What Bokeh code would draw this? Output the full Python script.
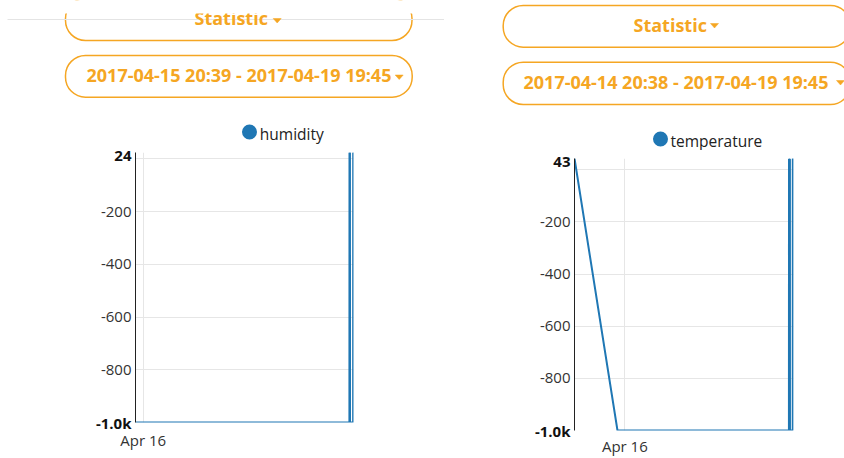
import pandas as pd
from bokeh.plotting import figure
from bokeh.models import Range1d, FixedTicker, DatetimeTickFormatter, LinearAxis, ColumnDataSource
from bokeh.layouts import row, column
from bokeh.core.properties import value
from bokeh.embed import file_html
from bokeh.resources import INLINE

# ---------------- data ----------------
humidity_time = ["2017-04-15 20:39", "2017-04-19 17:58", "2017-04-19 18:00", "2017-04-19 18:12",
                 "2017-04-19 18:14", "2017-04-19 19:35", "2017-04-19 19:37", "2017-04-19 19:45"]
humidity_value = [-1000, -1000, 24, 22, -1000, -1000, 24, 23]

temperature_time = ["2017-04-14 20:38", "2017-04-15 20:01", "2017-04-19 17:16", "2017-04-19 17:18",
                    "2017-04-19 17:48", "2017-04-19 17:50", "2017-04-19 19:20", "2017-04-19 19:22",
                    "2017-04-19 19:45"]
temperature_value = [43, -1000, -1000, 41, 40, -1000, -1000, 43, 42]

humidity_span = ["2017-04-15 20:39", "2017-04-19 19:45"]
temperature_span = ["2017-04-14 20:38", "2017-04-19 19:45"]
humidity_bounds = [-1000, 24]
temperature_bounds = [-1000, 43]

x_tick_dates = ["2017-04-16"]
y_ticks = [0, -200, -400, -600, -800, -1000]
y_tick_labels = ["", "-200", "-400", "-600", "-800", ""]
bottom_bound_label = "-1.0k"

series_names = ["humidity", "temperature"]
menu_label = "Statistic"

ORANGE = "#f5a623"
BLUE = "#1f77b4"
FONT = "Open Sans"


def header(width, height, stat_box, stat_text, date_box, date_text, caret1, caret2,
           legend_dot, legend_text, name, span, cover=None, rule=None):
    h = figure(width=width, height=height, x_range=Range1d(0, width), y_range=Range1d(height, 0),
               toolbar_location=None, tools="", output_backend="svg", min_border=0,
               x_axis_type=None, y_axis_type=None, outline_line_color=None, frame_align=False)
    h.grid.visible = False
    for (l, r, t, b) in (stat_box, date_box):
        h.quad(left=[l], right=[r], top=[t], bottom=[b], fill_color="white",
               line_color=ORANGE, line_width=1.5, border_radius=20)
    if rule is not None:
        h.segment(x0=[rule[0]], x1=[rule[1]], y0=[rule[2]], y1=[rule[2]],
                  line_color="#e4e4e4", line_width=1)
    label = f"{span[0]} - {span[1]}"
    h.text(x=[stat_text[0], date_text[0]], y=[stat_text[1], date_text[1]], text=[menu_label, label],
           text_font=value(FONT), text_font_style="bold", text_font_size=value("18px"),
           text_color=ORANGE, text_align="left", text_baseline="alphabetic")
    for (cx, cy) in (caret1, caret2):
        h.patch(x=[cx - 4, cx + 4, cx], y=[cy - 2, cy - 2, cy + 2.5],
                fill_color=ORANGE, line_color=ORANGE, line_width=0.5)
    if cover is not None:
        h.quad(left=[0], right=[width], top=[-20], bottom=[cover], fill_color="white", line_color=None)
    h.scatter(x=[legend_dot[0]], y=[legend_dot[1]], size=15, marker="circle",
              fill_color=BLUE, line_color=None)
    h.text(x=[legend_text[0]], y=[legend_text[1]], text=[name], text_font=value(FONT),
           text_font_size=value("15.5px"), text_color="#222", text_align="left",
           text_baseline="alphabetic")
    return h


def style_axis(ax, standoff, bold=False):
    ax.major_tick_line_color = None
    ax.minor_tick_line_color = None
    ax.major_tick_out = 0
    ax.major_tick_in = 0
    ax.minor_tick_out = 0
    ax.minor_tick_in = 0
    ax.major_label_standoff = standoff
    ax.major_label_text_font = FONT
    ax.major_label_text_font_size = "15px"
    ax.major_label_text_color = "#111" if bold else "#333"
    if bold:
        ax.major_label_text_font_style = "bold"


def chart(times, vals, span, bounds, width, height, mbl, mbr, mbt, mbb, standoff):
    x0, x1 = [pd.Timestamp(s).to_pydatetime() for s in span]
    p = figure(width=width, height=height, x_axis_type="datetime",
               x_range=Range1d(x0, x1), y_range=Range1d(bounds[0], bounds[1]),
               toolbar_location=None, tools="", output_backend="svg", frame_align=False,
               min_border_left=mbl, min_border_right=mbr, min_border_top=mbt, min_border_bottom=mbb)
    p.outline_line_color = None
    src = ColumnDataSource(dict(t=pd.to_datetime(times), v=vals))
    p.line("t", "v", source=src, line_color=BLUE, line_width=2)

    ticks_ms = [pd.Timestamp(d).value / 1e6 for d in x_tick_dates]
    p.xaxis.ticker = FixedTicker(ticks=ticks_ms)
    fmt = "%b %d"
    p.xaxis.formatter = DatetimeTickFormatter(microseconds=fmt, milliseconds=fmt, seconds=fmt,
                                              minsec=fmt, minutes=fmt, hourmin=fmt, hours=fmt,
                                              days=fmt, months=fmt, years=fmt)
    p.xaxis.axis_line_color = None
    style_axis(p.xaxis[0], standoff)

    yax = p.yaxis[0]
    yax.ticker = FixedTicker(ticks=y_ticks)
    yax.major_label_overrides = {t: lab for t, lab in zip(y_ticks, y_tick_labels)}
    yax.axis_line_color = "#222"
    style_axis(yax, 4)

    # range-bound labels in bold, drawn by a second left axis pulled back onto the first
    bold_ticks = [bounds[1], bounds[0]]
    bold_labels = [str(bounds[1]), bottom_bound_label]
    bax = LinearAxis(ticker=FixedTicker(ticks=bold_ticks),
                     major_label_overrides={t: lab for t, lab in zip(bold_ticks, bold_labels)})
    bax.axis_line_color = None
    style_axis(bax, -34, bold=True)
    p.add_layout(bax, "left")

    p.grid.grid_line_color = "#e6e6e6"
    p.grid.grid_line_width = 1
    return p


# left column: page x 0..444
hL = header(444, 144, stat_box=(65, 411.5, -2, 40), stat_text=(194, 17.7),
            date_box=(65, 411.7, 55, 96.7), date_text=(86, 74.7),
            caret1=(276.7, 20), caret2=(398.7, 76.5),
            legend_dot=(249, 131.5), legend_text=(259.3, 133.3), name=series_names[0],
            span=humidity_span, cover=13, rule=(7, 444, 19))
cL = chart(humidity_time, humidity_value, humidity_span, humidity_bounds,
           444, 314, mbl=135, mbr=91, mbt=8, mbb=36, standoff=7)

# right column: page x 444..844
hR = header(400, 150, stat_box=(58.7, 406, 5, 46.7), stat_text=(189, 24.7),
            date_box=(58.7, 406, 61.7, 104), date_text=(79, 81.3),
            caret1=(270, 25), caret2=(396, 82),
            legend_dot=(216, 138.5), legend_text=(226, 140), name=series_names[1],
            span=temperature_span)
cR = chart(temperature_time, temperature_value, temperature_span, temperature_bounds,
           400, 308, mbl=130, mbr=51, mbt=8, mbb=26, standoff=5)

layout = row(column(hL, cL), column(hR, cR))
open("out.html", "w").write(file_html(layout, INLINE))
